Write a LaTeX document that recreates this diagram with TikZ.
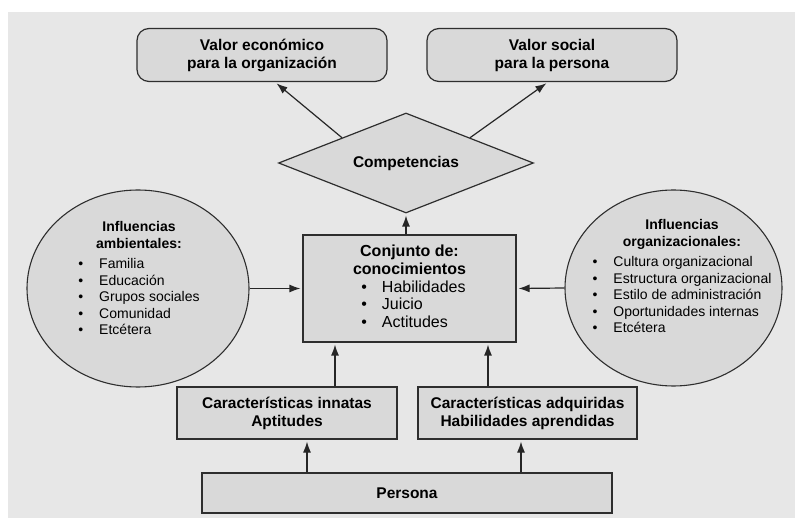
\documentclass[tikz,border=0pt]{standalone}
\usepackage{fontspec}
\setmainfont{Liberation Sans}
\usetikzlibrary{shapes.geometric,arrows.meta}
\definecolor{fondo}{HTML}{E7E7E7}
\definecolor{relleno}{HTML}{D9D9D9}
\definecolor{borde}{HTML}{2E2E2E}
\begin{document}
\begin{tikzpicture}[x=1pt,y=-1pt,
  caja/.style={draw=borde,fill=relleno,line width=1.2pt,inner sep=0pt,align=center,font=\fontsize{15.5}{18}\selectfont\bfseries},
  valor/.style={caja,rounded corners=12pt,minimum width=250pt,minimum height=53pt},
  rombo/.style={caja,diamond,aspect=2.55,minimum width=255pt,minimum height=100pt},
  influ/.style={draw=borde,fill=relleno,line width=1.1pt,ellipse,inner sep=0pt},
  texto/.style={inner sep=0pt,font=\fontsize{14}{16.5}\selectfont},
  flecha/.style={-{Latex[length=11pt,width=8pt]},line width=1.2pt,draw=black!85,shorten >=2pt}]
  \useasboundingbox (0,0) rectangle (795,518);
  \fill[fondo] (8,12) rectangle (795,518);
  \node[valor] (V1) at (262,55) {Valor económico\\para la organización};
  \node[valor] (V2) at (552,55) {Valor social\\para la persona};
  \node[rombo] (D) at (406,163) {Competencias};
  \node[caja,minimum width=213pt,minimum height=107pt,font=\fontsize{16}{17.7}\selectfont] (K) at (409.5,288.5) {\begin{tabular}{@{}c@{}}\textbf{Conjunto de:}\\\textbf{conocimientos}\\\hspace*{8pt}\begin{tabular}{@{}l@{\hspace{15pt}}l@{}}\textbullet & Habilidades\\\textbullet & Juicio\\\textbullet & Actitudes\end{tabular}\end{tabular}};
  \node[influ,minimum width=222pt,minimum height=197pt] (L) at (138,288.5) {};
  \node[texto] (Lt) at (139,280) {\begin{tabular}{@{}c@{}}\textbf{Influencias}\\\textbf{ambientales:}\\[4pt]\begin{tabular}{@{}l@{\hspace{16pt}}l@{}}\textbullet & Familia\\\textbullet & Educación\\\textbullet & Grupos sociales\\\textbullet & Comunidad\\\textbullet & Etcétera\end{tabular}\end{tabular}};
  \node[influ,minimum width=217pt,minimum height=196pt] (R) at (673.5,288) {};
  \node[texto] (Rt) at (682,278) {\begin{tabular}{@{}c@{}}\textbf{Influencias}\\\textbf{organizacionales:}\\[4pt]\begin{tabular}{@{}l@{\hspace{16pt}}l@{}}\textbullet & Cultura organizacional\\\textbullet & Estructura organizacional\\\textbullet & Estilo de administración\\\textbullet & Oportunidades internas\\\textbullet & Etcétera\end{tabular}\end{tabular}};
  \node[caja,minimum width=220pt,minimum height=52pt] (C1) at (287,413) {Características innatas\\Aptitudes};
  \node[caja,minimum width=219pt,minimum height=52pt] (C2) at (527.5,413) {Características adquiridas\\Habilidades aprendidas};
  \node[caja,minimum width=410pt,minimum height=40pt] (P) at (407,493) {Persona};
  \draw[flecha] (D.north west) -- ([xshift=13]V1.south);
  \draw[flecha] (D.north east) -- ([xshift=-4]V2.south);
  \draw[flecha] (D.south |- K.north) -- (D.south);
  \draw[flecha] (L.east) -- (K.west);
  \draw[flecha] (R.west) -- (K.east);
  \draw[flecha] ([xshift=48]C1.north) -- ([xshift=-74.5]K.south);
  \draw[flecha] ([xshift=-39.5]C2.north) -- ([xshift=78.5]K.south);
  \draw[flecha] ([xshift=-100]P.north) -- ([xshift=20]C1.south);
  \draw[flecha] ([xshift=114]P.north) -- ([xshift=-6.5]C2.south);
\end{tikzpicture}
\end{document}
